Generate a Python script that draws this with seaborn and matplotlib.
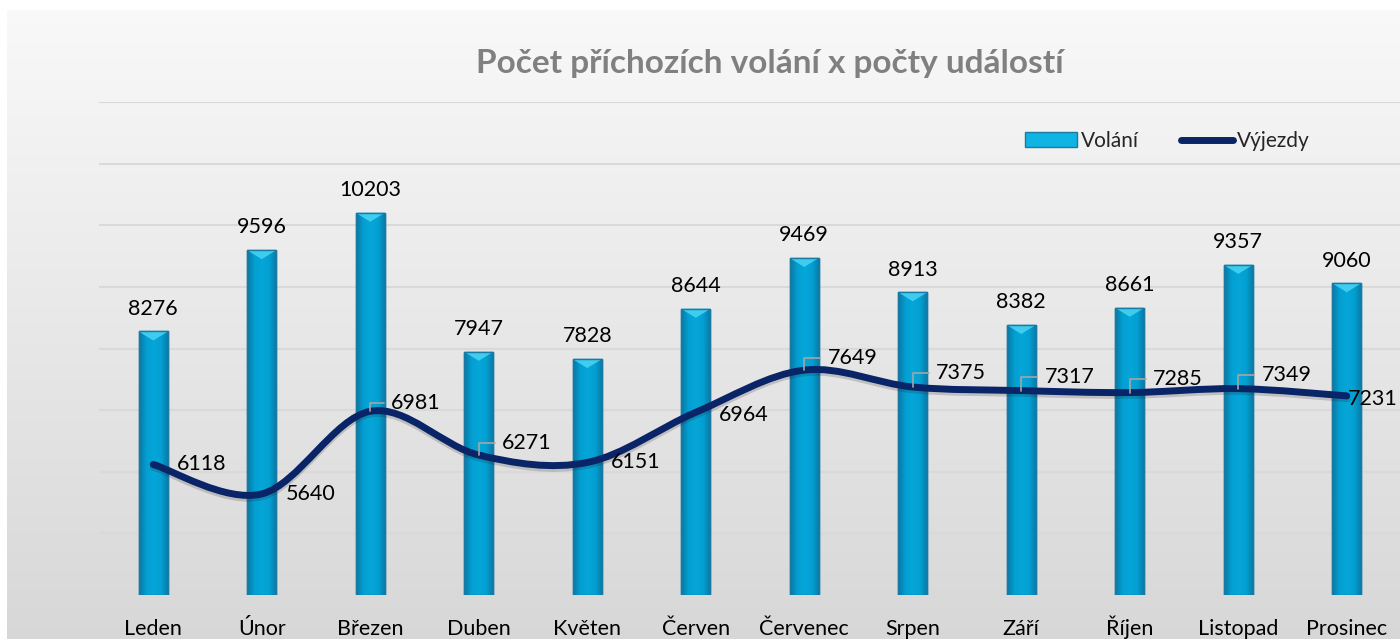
import numpy as np
import matplotlib.pyplot as plt
import matplotlib.patheffects as pe
import seaborn as sns
from matplotlib.path import Path
from matplotlib.patches import PathPatch, Patch, Polygon
from matplotlib.lines import Line2D
from matplotlib.colors import LinearSegmentedColormap

# data
months = ["Leden", "Únor", "Březen", "Duben", "Květen", "Červen",
          "Červenec", "Srpen", "Září", "Říjen", "Listopad", "Prosinec"]
volani = [8276, 9596, 10203, 7947, 7828, 8644, 9469, 8913, 8382, 8661, 9357, 9060]
vyjezdy = [6118, 5640, 6981, 6271, 6151, 6964, 7649, 7375, 7317, 7285, 7349, 7231]

# label offsets (points) for the line labels, leader=True draws the small elbow
line_label_style = [((17, 0), False), ((17, 0), False), ((15, 6), True),
                    ((17, 9), True), ((17, 0), False), ((17, -2), False),
                    ((17, 9), True), ((17, 10), True), ((17, 10), True),
                    ((17, 10), True), ((17, 10), True), ((1, -2), False)]

sns.set_theme(style="white")
plt.rcParams["font.family"] = ["Lato", "DejaVu Sans"]

fig = plt.figure(figsize=(14, 6.39), dpi=100)
fig.patch.set_facecolor("white")

# chart-area background gradient
bg = fig.add_axes([7 / 1400, 0, 1 - 7 / 1400, 1 - 10 / 639], zorder=-5)
grad = np.linspace(0.975, 0.845, 256).reshape(-1, 1)
bg.imshow(np.dstack([grad, grad, grad]), aspect="auto", extent=(0, 1, 0, 1))
bg.set_axis_off()

ax = fig.add_axes([99 / 1400, 1 - 595 / 639, 1302 / 1400, 493 / 639])
ax.set_facecolor("none")

ymin, ymax = 4000, 12000

sns.barplot(x=months, y=volani, ax=ax, width=0.27, color="#05a3d6",
            saturation=1, edgecolor="#1a7aa3", linewidth=1, zorder=2)

bar_cmap = LinearSegmentedColormap.from_list(
    "bar", ["#0b76a3", "#03a0d2", "#06a6d9", "#03a0d2", "#0b76a3"])
hgrad = np.linspace(0, 1, 64).reshape(1, -1)
px_per_unit = 493 / (ymax - ymin)
for bar in ax.patches:
    x0, w, h = bar.get_x(), bar.get_width(), bar.get_height()
    im = ax.imshow(hgrad, cmap=bar_cmap, aspect="auto",
                   extent=(x0, x0 + w, ymin, h), zorder=2.1)
    im.set_clip_path(bar)
    cap = 9 / px_per_unit
    ax.add_patch(Polygon([(x0, h), (x0 + w, h), (x0 + w * 0.5, h - cap)],
                         closed=True, facecolor="#45d2f2", edgecolor="none",
                         alpha=0.9, zorder=2.2))
    ax.add_patch(Polygon([(x0, h), (x0 + w, h), (x0 + w, ymin), (x0, ymin)],
                         closed=True, facecolor="none", edgecolor="#1a7aa3",
                         linewidth=1, zorder=2.3))

# smooth line (Bezier through the points, like Excel smoothing)
xs = np.arange(len(vyjezdy), dtype=float)
ys = np.array(vyjezdy, dtype=float)
verts = [(xs[0], ys[0])]
codes = [Path.MOVETO]
for i in range(len(xs) - 1):
    p0 = np.array([xs[max(i - 1, 0)], ys[max(i - 1, 0)]])
    p1 = np.array([xs[i], ys[i]])
    p2 = np.array([xs[i + 1], ys[i + 1]])
    p3 = np.array([xs[min(i + 2, len(xs) - 1)], ys[min(i + 2, len(xs) - 1)]])
    c1 = p1 + (p2 - p0) / 6
    c2 = p2 - (p3 - p1) / 6
    verts += [tuple(c1), tuple(c2), tuple(p2)]
    codes += [Path.CURVE4] * 3
line = PathPatch(Path(verts, codes), facecolor="none", edgecolor="#0a2468",
                 linewidth=5, capstyle="round", joinstyle="round", zorder=4,
                 path_effects=[pe.SimpleLineShadow(offset=(0, -2), alpha=0.18),
                               pe.Normal()])
ax.add_patch(line)

# labels
for i, v in enumerate(volani):
    ax.annotate(f"{v}", (i, v), xytext=(0, 12), textcoords="offset points",
                ha="center", va="baseline", fontsize=15.5, color="black", zorder=5)

for i, v in enumerate(vyjezdy):
    (dx, dy), leader = line_label_style[i]
    kw = {}
    if leader:
        kw["arrowprops"] = dict(arrowstyle="-", color="#a6a6a6", lw=1.2,
                                shrinkA=3, shrinkB=0, relpos=(0, 0.5),
                                connectionstyle="angle,angleA=0,angleB=90,rad=0")
    ax.annotate(f"{v}", (i, v), xytext=(dx, dy), textcoords="offset points",
                ha="left", va="center", fontsize=15.5, color="black", zorder=5, **kw)

ax.set_ylim(ymin, ymax)
ax.set_xlim(-0.5, len(months) - 0.5)
ax.set_yticks(np.arange(ymin, ymax + 1, 1000))
ax.set_yticklabels([])
ax.tick_params(axis="y", length=0)
ax.set_xticks(range(len(months)))
ax.set_xticklabels(months, va="baseline", fontsize=15.5, color="black")
ax.tick_params(axis="x", length=0, pad=29)
ax.grid(axis="y", color="#d9d9d9", linewidth=1.5, zorder=0)
ax.set_axisbelow(True)
for s in ax.spines.values():
    s.set_visible(False)
ax.set_xlabel("")
ax.set_ylabel("")

fig.text(0.55, 1 - 63 / 639, "Počet příchozích volání x počty událostí",
         ha="center", va="center", fontsize=24, fontweight="bold", color="#808080")

handles = [Patch(facecolor="#10b4e3", edgecolor="#1a7aa3", linewidth=1),
           Line2D([], [], color="#0a2468", linewidth=5, solid_capstyle="round")]
fig.legend(handles, ["Volání", "Výjezdy"], loc="center",
           bbox_to_anchor=(0.834, 1 - 141 / 639), ncol=2, frameon=False,
           fontsize=15, handlelength=2.5, handleheight=0.7, handletextpad=0.2,
           columnspacing=2.0)

fig.savefig("out.png", dpi=100)
